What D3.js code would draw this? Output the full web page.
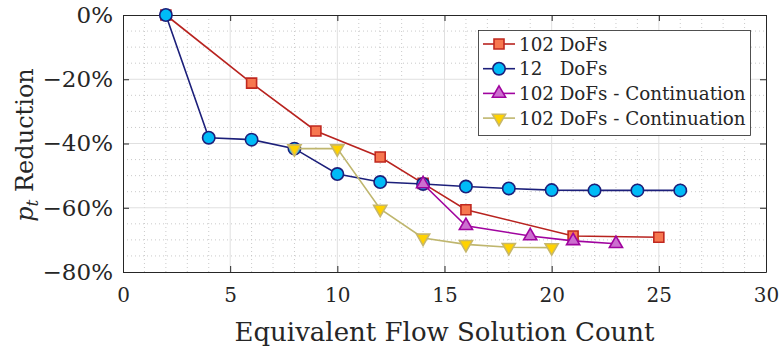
<!DOCTYPE html>
<html><head><meta charset="utf-8">
<script src="https://cdn.jsdelivr.net/npm/d3@7"></script>
<style>body{margin:0;background:#fff}svg{display:block}</style>
</head><body>
<svg id="c" width="779" height="351" style="font-family:'DejaVu Serif',serif"></svg>
<script>
const redX=[2,6,9,12,14,16,21,25];
const redY=[0,-21.2,-36.1,-44.2,-52.4,-60.6,-68.8,-69.2];
const blueX=[2,4,6,8,10,12,14,16,18,20,22,24,26];
const blueY=[0,-38.2,-38.8,-41.6,-49.5,-52.0,-52.6,-53.4,-54.0,-54.5,-54.6,-54.6,-54.6];
const purX=[14,16,19,21,23];
const purY=[-52.6,-65.6,-68.8,-70.3,-71.2];
const yelX=[8,10,12,14,16,18,20];
const yelY=[-41.6,-41.6,-60.4,-69.4,-71.4,-72.3,-72.4];
const xTicks=[0,5,10,15,20,25,30];
const yTicks=[0,-20,-40,-60,-80];
const seriesNames=["102 DoFs","12   DoFs","102 DoFs - Continuation","102 DoFs - Continuation"];

const FONT="'DejaVu Serif',serif";
const svg=d3.select("#c");
const L=123,R=766,T=15,B=272;
const x=d3.scaleLinear().domain([0,30]).range([L,R]);
const y=d3.scaleLinear().domain([-80,0]).range([B,T]);

const g=svg.append("g");
g.selectAll(".mx").data(d3.range(0,31,1).filter(v=>v%5)).join("line")
 .attr("x1",d=>x(d)).attr("x2",d=>x(d)).attr("y1",T).attr("y2",B)
 .attr("stroke","#bdbdbd").attr("stroke-width",0.8).attr("stroke-dasharray","1,3");
g.selectAll(".my").data(d3.range(-80,1,5).filter(v=>v%20)).join("line")
 .attr("y1",d=>y(d)).attr("y2",d=>y(d)).attr("x1",L).attr("x2",R)
 .attr("stroke","#bdbdbd").attr("stroke-width",0.8).attr("stroke-dasharray","1,3");
g.selectAll(".Mx").data(xTicks.slice(1,-1)).join("line")
 .attr("x1",d=>x(d)).attr("x2",d=>x(d)).attr("y1",T).attr("y2",B)
 .attr("stroke","#e0e0e0").attr("stroke-width",1);
g.selectAll(".My").data(yTicks.slice(1,-1)).join("line")
 .attr("y1",d=>y(d)).attr("y2",d=>y(d)).attr("x1",L).attr("x2",R)
 .attr("stroke","#e0e0e0").attr("stroke-width",1);

const fmtY=d=>(d<0?"\u2212"+(-d):d)+"%";
function styleAxis(s,fs){
  s.attr("font-family",FONT);
  s.select(".domain").attr("stroke","#262626");
  s.selectAll("line").attr("stroke","#262626");
  s.selectAll("text").attr("font-size",fs).attr("font-family",FONT).attr("fill","#262626");
}
svg.append("g").attr("transform",`translate(0,${B})`).call(d3.axisBottom(x).tickValues(xTicks).tickSizeInner(-6).tickSizeOuter(0).tickPadding(16)).call(styleAxis,20);
svg.append("g").attr("transform",`translate(0,${T})`).call(d3.axisTop(x).tickValues(xTicks).tickSizeInner(-6).tickSizeOuter(0).tickFormat("")).call(styleAxis,20);
svg.append("g").attr("transform",`translate(${L},0)`).call(d3.axisLeft(y).tickValues(yTicks).tickFormat(fmtY).tickSizeInner(-6).tickSizeOuter(0).tickPadding(10)).call(styleAxis,23);
svg.append("g").attr("transform",`translate(${R},0)`).call(d3.axisRight(y).tickValues(yTicks).tickSizeInner(-6).tickSizeOuter(0).tickFormat("")).call(styleAxis,23);

svg.append("text").attr("x",(L+R)/2).attr("y",341).attr("text-anchor","middle").attr("font-size",26).attr("fill","#262626").attr("font-family",FONT).text("Equivalent Flow Solution Count");
const yt=svg.append("text").attr("transform",`translate(33,${145}) rotate(-90)`).attr("text-anchor","middle").attr("font-size",24).attr("fill","#262626").attr("font-family",FONT);
yt.append("tspan").attr("font-style","italic").text("p");
yt.append("tspan").attr("font-style","italic").attr("font-size",17).attr("dy",5).text("t");
yt.append("tspan").attr("dy",-5).text(" Reduction");

const series=[
 {xs:redX,ys:redY,line:"#b8231f",fill:"#f7774f",stroke:"#c0281f",shape:"square"},
 {xs:blueX,ys:blueY,line:"#1c1f7a",fill:"#00bbf7",stroke:"#1c1f7a",shape:"circle"},
 {xs:purX,ys:purY,line:"#a0049f",fill:"#cc6fcf",stroke:"#a0049f",shape:"tri"},
 {xs:yelX,ys:yelY,line:"#bfb66e",fill:"#ffd200",stroke:"#c7b76a",shape:"dtri"}
];
const sym={square:d3.symbol(d3.symbolSquare,100),circle:d3.symbol(d3.symbolCircle,120),
 tri:d3.symbol(d3.symbolTriangle,75),dtri:d3.symbol(d3.symbolTriangle,75)};
const line=d3.line().x(d=>x(d[0])).y(d=>y(d[1]));
function marker(sel,s){
  sel.attr("d",sym[s.shape]).attr("fill",s.fill).attr("stroke",s.stroke).attr("stroke-width",1.6);
}
series.forEach(s=>{
  const pts=s.xs.map((v,i)=>[v,s.ys[i]]);
  svg.append("path").datum(pts).attr("d",line).attr("fill","none").attr("stroke",s.line).attr("stroke-width",1.6);
  svg.append("g").selectAll("path").data(pts).join("path")
   .attr("transform",d=>`translate(${x(d[0])},${y(d[1])})${s.shape==="dtri"?" rotate(180)":""}`)
   .call(marker,s);
});

const lg=svg.append("g");
lg.append("rect").attr("x",478.5).attr("y",30.5).attr("width",272).attr("height",105).attr("fill","#fff").attr("stroke","#262626").attr("stroke-width",0.8);
series.forEach((s,i)=>{
  const cy=44+i*24.7;
  lg.append("line").attr("x1",483).attr("x2",515).attr("y1",cy).attr("y2",cy).attr("stroke",s.line).attr("stroke-width",1.6);
  lg.append("path").attr("transform",`translate(499,${cy})${s.shape==="dtri"?" rotate(180)":""}`).call(marker,s);
  lg.append("text").attr("x",519).attr("y",cy+6.5).attr("font-size",18.3).attr("fill","#262626").attr("font-family",FONT).style("white-space","pre").text(seriesNames[i]);
});
</script>
</body></html>
